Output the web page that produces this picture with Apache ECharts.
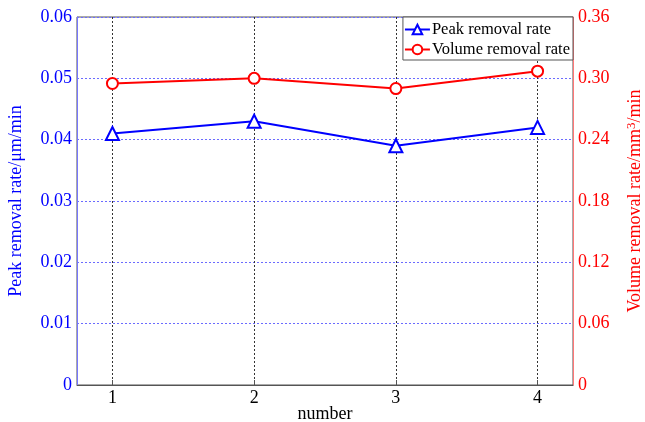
<!DOCTYPE html>
<html><head><meta charset="utf-8">
<script src="https://cdn.jsdelivr.net/npm/echarts@6/dist/echarts.min.js"></script>
<style>html,body{margin:0;padding:0;background:#fff}#c{width:645px;height:422px}</style>
</head><body><div id="c"></div>
<script>
const numbers = [1, 2, 3, 4];
const peakRate = [0.041, 0.043, 0.039, 0.042];
const volumeRate = [0.295, 0.300, 0.290, 0.307];
const xTicks = [1, 2, 3, 4];

const FONT = "'Liberation Serif','Times New Roman',serif";
const chart = echarts.init(document.getElementById('c'));
chart.setOption({
  animation: false,
  backgroundColor: '#fff',
  grid: {left: 77, right: 72, top: 17, bottom: 37, outerBoundsMode: 'none', containLabel: false,
    show: true, borderColor: '#555', borderWidth: 1, backgroundColor: 'transparent'},
  legend: {
    orient: 'vertical', right: 72, top: 17, itemWidth: 25, itemHeight: 12, itemGap: 3,
    padding: [4, 3, 2, 1], backgroundColor: '#fff', borderColor: '#555', borderWidth: 1, borderRadius: 0,
    textStyle: {fontFamily: FONT, fontSize: 16.5, color: '#000', padding: [0, 0, 0, -3]},
    data: ['Peak removal rate', 'Volume removal rate']
  },
  xAxis: {
    type: 'value', min: 0.75, max: 4.25,
    name: 'number', nameLocation: 'middle', nameGap: 20, nameMoveOverlap: false,
    nameTextStyle: {fontFamily: FONT, fontSize: 18, color: '#000'},
    axisLine: {onZero: false, lineStyle: {color: '#555'}},
    axisTick: {inside: true, length: 5, customValues: xTicks, lineStyle: {color: '#555'}},
    axisLabel: {customValues: xTicks, fontFamily: FONT, fontSize: 18, color: '#000', margin: 4},
    splitLine: {show: true, lineStyle: {color: '#333', type: [2, 2], width: 1}}
  },
  yAxis: [{
    type: 'value', min: 0, max: 0.06, interval: 0.01, position: 'left',
    name: 'Peak removal rate/μm/min', nameLocation: 'middle', nameGap: 52, nameRotate: 90, nameMoveOverlap: false,
    nameTextStyle: {fontFamily: FONT, fontSize: 18, color: '#0000ff'},
    axisLine: {show: true, lineStyle: {color: '#7777ff'}},
    axisTick: {show: false},
    axisLabel: {fontFamily: FONT, fontSize: 18, color: '#0000ff', margin: 5, formatter: v => v === 0 ? '0' : v.toFixed(2)},
    splitLine: {show: true, lineStyle: {color: '#6b6bff', type: [2, 2], width: 1}}
  }, {
    type: 'value', min: 0, max: 0.36, interval: 0.06, position: 'right',
    name: 'Volume removal rate/mm{sup|3}/min', nameLocation: 'middle', nameGap: 52, nameRotate: 90, nameMoveOverlap: false,
    nameTextStyle: {fontFamily: FONT, fontSize: 18, color: '#ff0000',
      rich: {sup: {fontFamily: FONT, fontSize: 13, color: '#ff0000', verticalAlign: 'top', padding: [0, 0, 8, 0]}}},
    axisLine: {show: true, lineStyle: {color: '#ff7777'}},
    axisTick: {show: false},
    axisLabel: {fontFamily: FONT, fontSize: 18, color: '#ff0000', margin: 5, formatter: v => v === 0 ? '0' : v.toFixed(2)},
    splitLine: {show: false}
  }],
  series: [{
    name: 'Peak removal rate', type: 'line', yAxisIndex: 0,
    data: numbers.map((n, i) => [n, peakRate[i]]),
    symbol: 'triangle', symbolSize: 13, itemStyle: {color: '#fff', borderColor: '#0000ff', borderWidth: 2},
    lineStyle: {color: '#0000ff', width: 2}, color: '#0000ff'
  }, {
    name: 'Volume removal rate', type: 'line', yAxisIndex: 1,
    data: numbers.map((n, i) => [n, volumeRate[i]]),
    symbol: 'circle', symbolSize: 11, itemStyle: {color: '#fff', borderColor: '#ff0000', borderWidth: 2},
    lineStyle: {color: '#ff0000', width: 2}, color: '#ff0000'
  }]
});
</script></body></html>
